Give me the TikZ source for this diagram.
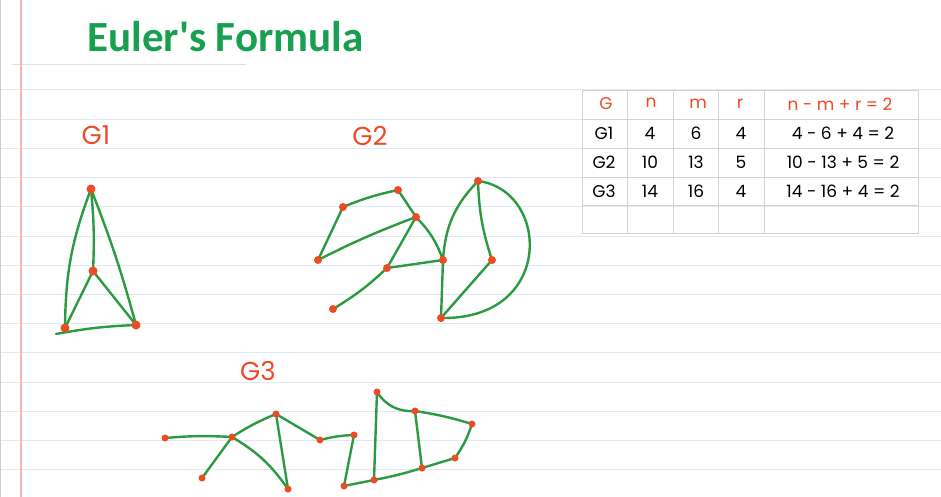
\documentclass[tikz,border=0pt]{standalone}
\usepackage{fontspec}
\newfontfamily\titlefont{Carlito}
\newfontfamily\handfont{Poppins}
\usetikzlibrary{positioning}
\definecolor{notegreen}{HTML}{17A04F}
\definecolor{inkgreen}{HTML}{2C9A40}
\definecolor{inkred}{HTML}{EE4B25}
\definecolor{ruleblue}{HTML}{DDE9F6}
\definecolor{marginred}{HTML}{F3B4B4}
\definecolor{gridgrey}{HTML}{D2D2D2}

\begin{document}
\begin{tikzpicture}[x=1pt,y=-1pt,
    edge/.style={inkgreen,line width=2.4pt,line cap=round,line join=round},
    dot/.style={circle,fill=inkred,inner sep=0pt,minimum size=8pt},
    glabel/.style={text=inkred,font=\handfont\fontsize{26}{28}\selectfont},
    cell/.style={font=\handfont\fontsize{17}{19}\selectfont},
    headcell/.style={cell,text=inkred}]
        \useasboundingbox (0,0) rectangle (941,497);
        \fill[white] (0,0) rectangle (941,497);

        % ruled page
        \foreach \k in {0,...,13}
          \draw[ruleblue,line width=1pt] (0,90+29.2*\k) -- (941,90+29.2*\k);
        \draw[gridgrey!70,line width=.6pt] (12,64) -- (246,64);
        \draw[marginred,line width=1.6pt] (21,0) -- (21,497);
        \draw[gray!40,line width=.8pt] (.5,0) -- (.5,497);

        \node[anchor=base west,font=\titlefont\bfseries\fontsize{43}{46}\selectfont,
          text=notegreen] (title) at (84,52) {Euler\textquotesingle s Formula};

        % table
        \draw[gridgrey,line width=.8pt] (582,90) rectangle (918,233);
        \foreach \yy in {119,148,177,205}
          \draw[gridgrey,line width=.8pt] (582,\yy) -- (918,\yy);
        \foreach \xx in {627,673,718,764}
          \draw[gridgrey,line width=.8pt] (\xx,90) -- (\xx,233);

        \node[headcell] (hG) at (606,104) {G};
        \node[headcell] (hn) at (651,103) {n};
        \node[headcell] (hm) at (698,104) {m};
        \node[headcell] (hr) at (740,104) {r};
        \node[headcell] (hf) at (840,104) {n - m + r = 2};
        \foreach \g/\n/\m/\r/\f [count=\k] in
          {G1/4/6/4/{4 - 6 + 4 = 2},G2/10/13/5/{10 - 13 + 5 = 2},G3/14/16/4/{14 - 16 + 4 = 2}} {
          \node[cell] (g\k) at (604,104.5+29*\k) {\g};
          \node[cell] (n\k) at (650,104.5+29*\k) {\n};
          \node[cell] (m\k) at (696,104.5+29*\k) {\m};
          \node[cell] (r\k) at (741,104.5+29*\k) {\r};
          \node[cell] (f\k) at (843,104.5+29*\k) {\f};
        }

        % G1
        \node[glabel] (labelA) at (96,135) {G1};
        \coordinate (v1) at (91,189);
        \coordinate (v2) at (93,271);
        \coordinate (v3) at (65,328);
        \coordinate (v4) at (136,325);
        \coordinate (v3x) at (56,334);
        \draw[edge] (v1) to[bend right=10] (v3);
        \draw[edge] (v1) to[bend left=4] (v2);
        \draw[edge] (v1) to[bend left=3] (v4);
        \draw[edge] (v2) -- (v3);
        \draw[edge] (v2) -- (v4);
        \draw[edge] (v3x) to[bend left=4] (v4);
        \foreach \v in {v1,v2,v3,v4}
          \node[dot,minimum size=9pt] (dot\v) at (\v) {};

        % G2
        \node[glabel] (labelB) at (370,136) {G2};
        \coordinate (u1) at (343,207);
        \coordinate (u2) at (398,190);
        \coordinate (u3) at (416,217);
        \coordinate (u4) at (318,260);
        \coordinate (u5) at (387,268);
        \coordinate (u6) at (443,260);
        \coordinate (u7) at (333,309);
        \coordinate (u8) at (478,181);
        \coordinate (u9) at (492,260);
        \coordinate (u10) at (441,318);
        \draw[edge] (u1) to[bend left=5] (u2);
        \draw[edge] (u2) -- (u3);
        \draw[edge] (u1) -- (u4);
        \draw[edge] (u4) to[bend left=3] (u3);
        \draw[edge] (u3) -- (u5);
        \draw[edge] (u3) to[bend left=12] (u6);
        \draw[edge] (u5) -- (u6);
        \draw[edge] (u5) to[bend left=6] (u7);
        \draw[edge] (u6) to[bend left=20] (u8);
        \draw[edge] (u8) to[bend right=8] (u9);
        \draw[edge] (u8) .. controls (550,190) and (555,320) .. (u10);
        \draw[edge] (u6) -- (u10);
        \draw[edge] (u10) -- (u9);
        \foreach \v in {u1,u2,u3,u4,u5,u6,u7,u8,u9,u10}
          \node[dot] (dot\v) at (\v) {};

        % G3
        \node[glabel] (labelC) at (258,371) {G3};
        \coordinate (w1) at (165,438);
        \coordinate (w2) at (232,437);
        \coordinate (w3) at (202,478);
        \coordinate (w4) at (276,414);
        \coordinate (w5) at (288,489);
        \coordinate (w6) at (320,440);
        \coordinate (w7) at (354,435);
        \coordinate (w8) at (344,486);
        \coordinate (w9) at (377,392);
        \coordinate (w10) at (374,480);
        \coordinate (w11) at (415,411);
        \coordinate (w12) at (472,424);
        \coordinate (w13) at (422,468);
        \coordinate (w14) at (455,458);
        \draw[edge] (w1) to[bend left=4] (w2);
        \draw[edge] (w2) -- (w3);
        \draw[edge] (w2) to[bend left=5] (w4);
        \draw[edge] (w2) to[bend left=12] (w5);
        \draw[edge] (w4) -- (w5);
        \draw[edge] (w4) -- (w6);
        \draw[edge] (w6) to[bend left=6] (w7);
        \draw[edge] (w7) -- (w8);
        \draw[edge] (w8) -- (w10);
        \draw[edge] (w9) -- (w10);
        \draw[edge] (w9) to[bend right=30] (w11);
        \draw[edge] (w11) -- (w13);
        \draw[edge] (w11) to[bend left=4] (w12);
        \draw[edge] (w12) to[bend left=8] (w14);
        \draw[edge] (w14) -- (w13);
        \draw[edge] (w10) to[bend right=3] (w13);
        \foreach \v in {w1,w2,w3,w4,w5,w6,w7,w8,w9,w10,w11,w12,w13,w14}
          \node[dot,minimum size=7pt] (dot\v) at (\v) {};
      \end{tikzpicture}
\end{document}
